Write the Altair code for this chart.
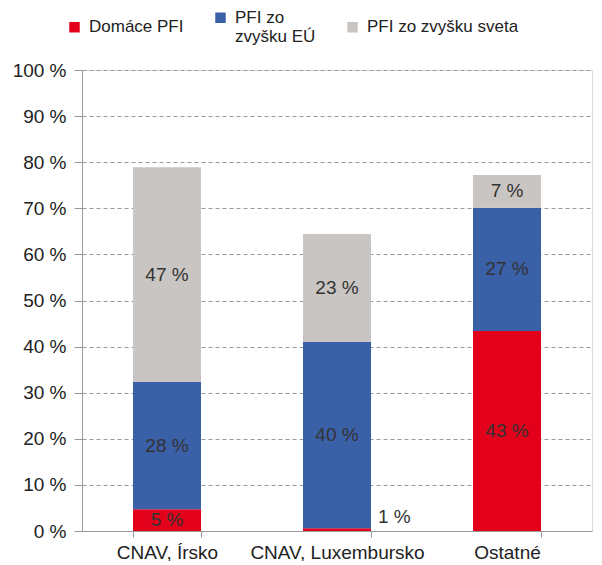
import altair as alt
import pandas as pd

categories = ["CNAV, Írsko", "CNAV, Luxembursko", "Ostatné"]
series = ["Domáce PFI", "PFI zo zvyšku EÚ", "PFI zo zvyšku sveta"]
domace = [4.7, 0.6, 43.4]
eu = [27.6, 40.4, 26.7]
svet = [46.6, 23.4, 7.1]
labels_domace = ["5 %", "1 %", "43 %"]
labels_eu = ["28 %", "40 %", "27 %"]
labels_svet = ["47 %", "23 %", "7 %"]
colors = ["#E2001A", "#3A60A8", "#C9C5C2"]

rows = []
for i, cat in enumerate(categories):
    base = 0.0
    for s_idx, (vals, labs) in enumerate([(domace, labels_domace), (eu, labels_eu), (svet, labels_svet)]):
        v = vals[i]
        rows.append({
            "cat": cat, "series": series[s_idx], "order": s_idx,
            "start": base, "end": base + v, "mid": base + v / 2,
            "value": v, "label": labs[i],
        })
        base += v
df = pd.DataFrame(rows)

FONT = "Liberation Sans"

x_enc = alt.X("cat:N", sort=categories, title=None,
              scale=alt.Scale(paddingInner=0.6, paddingOuter=0.3),
              axis=alt.Axis(labelAngle=0, tickBand="extent", tickSize=6,
                            labelFontSize=19, labelColor="#222", labelPadding=6,
                            domainColor="#999", tickColor="#999", labelFont=FONT))

bars = alt.Chart(df).mark_bar().encode(
    x=x_enc,
    y=alt.Y("start:Q", title=None,
            scale=alt.Scale(domain=[0, 100], nice=False),
            axis=alt.Axis(values=list(range(0, 101, 10)),
                          labelExpr="datum.value + ' %'",
                          grid=True, gridDash=[4, 3], gridColor="#999",
                          domainColor="#999", tickColor="#999", tickSize=8,
                          labelFontSize=19, labelColor="#222", labelPadding=8,
                          labelFont=FONT)),
    y2="end:Q",
    color=alt.Color("series:N", sort=series,
                    scale=alt.Scale(domain=series, range=colors),
                    legend=alt.Legend(title=None, orient="none", legendX=-16, legendY=-61,
                                      direction="horizontal", symbolType="square",
                                      symbolSize=110, symbolStrokeWidth=0,
                                      labelFontSize=17, labelColor="#222", labelFont=FONT,
                                      columnPadding=28, labelOffset=6,
                                      labelExpr="datum.label == 'PFI zo zvyšku EÚ' ? ['PFI zo', 'zvyšku EÚ'] : datum.label")),
)

text_main = alt.Chart(df).transform_filter("datum.value >= 2").mark_text(
    fontSize=19, color="#333", font=FONT, baseline="middle"
).encode(x=alt.X("cat:N", sort=categories), y="mid:Q", text="label:N")

text_small = alt.Chart(df).transform_filter("datum.value < 2").mark_text(
    fontSize=19, color="#333", font=FONT, baseline="bottom", align="left", dx=41, dy=-4
).encode(x=alt.X("cat:N", sort=categories), y="start:Q", text="label:N")

chart = alt.layer(bars, text_main, text_small).properties(
    width=510, height=461,
    autosize=alt.AutoSizeParams(type="none"),
    padding={"left": 74, "top": 62, "right": 2, "bottom": 30},
).configure_view(stroke=None).configure(font=FONT)

chart.save("out.html", embed_options={"renderer": "svg", "actions": False})
